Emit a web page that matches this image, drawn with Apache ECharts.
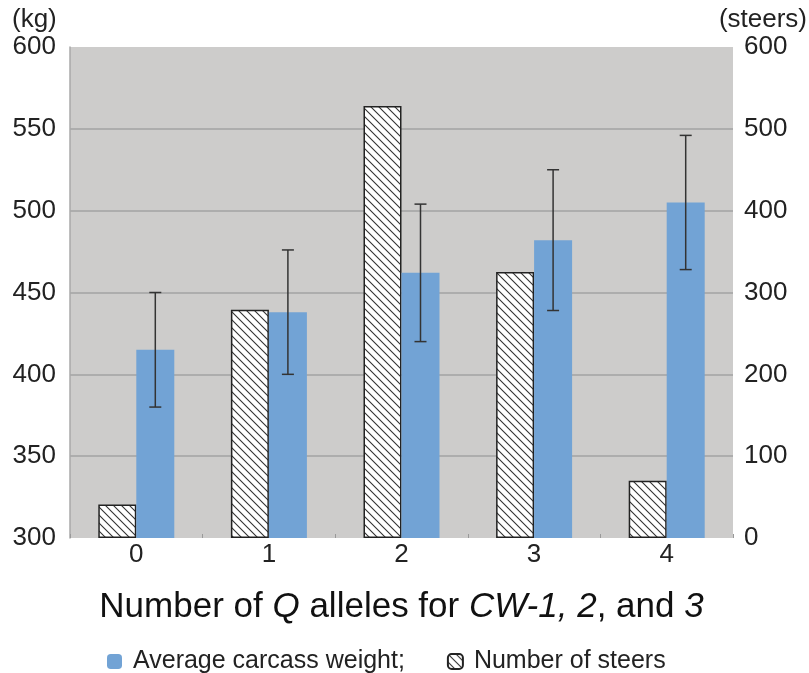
<!DOCTYPE html>
<html>
<head>
<meta charset="utf-8">
<script src="https://cdn.jsdelivr.net/npm/echarts@6/dist/echarts.min.js"></script>
<style>html,body{margin:0;padding:0;background:#fff;}#c{width:809px;height:673px;}</style>
</head>
<body>
<div id="c"></div>
<script>
var categories = ['0', '1', '2', '3', '4'];
var avgWeight = [415, 438, 462, 482, 505];
var weightErr = [35, 38, 42, 43, 41];
var steerCount = [41, 279, 528, 325, 70];
var leftTicks = [300, 600, 50];
var rightTicks = [0, 600, 100];

var FONT = '"Liberation Sans", Arial, Helvetica, sans-serif';
var BAR_W = 38;

function hatchPattern() {
  var s = 8;
  var cv = document.createElement('canvas');
  cv.width = s; cv.height = s;
  var ctx = cv.getContext('2d');
  ctx.fillStyle = '#ffffff';
  ctx.fillRect(0, 0, s, s);
  ctx.strokeStyle = '#333333';
  ctx.lineWidth = 1.1;
  ctx.beginPath();
  ctx.moveTo(-1, -1); ctx.lineTo(s + 1, s + 1);
  ctx.moveTo(-1, s - 1); ctx.lineTo(1, s + 1);
  ctx.moveTo(s - 1, -1); ctx.lineTo(s + 1, 1);
  ctx.stroke();
  return { image: cv, repeat: 'repeat' };
}

var errData = avgWeight.map(function (v, i) { return [i, v - weightErr[i], v + weightErr[i]]; });

var chart = echarts.init(document.getElementById('c'), null, { renderer: 'canvas' });
chart.setOption({
  animation: false,
  textStyle: { fontFamily: FONT },
  grid: { left: 70, right: 76, top: 47, bottom: 135, show: true, backgroundColor: '#cdcccb', borderWidth: 0 },
  legend: {
    data: ['Average carcass weight;', 'Number of steers'],
    left: 102, top: 644, itemWidth: 15, itemHeight: 15, itemGap: 42,
    textStyle: { fontSize: 25, color: '#222', fontFamily: FONT, padding: [0, 0, 0, 6] }
  },
  xAxis: {
    type: 'category', data: categories,
    axisLine: { show: false },
    axisTick: { show: true, inside: true, length: 4, lineStyle: { color: '#999' } },
    axisLabel: { fontSize: 26, color: '#222', margin: 4, fontFamily: FONT },
    name: '{n|Number of }{i|Q}{n| alleles for }{i|CW-1, 2}{n|, and }{i|3}',
    nameLocation: 'middle', nameGap: 52,
    nameTextStyle: {
      rich: {
        n: { fontSize: 35, color: '#111', fontFamily: FONT },
        i: { fontSize: 35, color: '#111', fontStyle: 'italic', fontFamily: FONT }
      }
    }
  },
  yAxis: [{
    type: 'value', min: leftTicks[0], max: leftTicks[1], interval: leftTicks[2],
    axisLine: { show: true, lineStyle: { color: '#a8a8a8', width: 1.5 } },
    axisTick: { show: false },
    splitLine: { show: true, showMaxLine: false, showMinLine: false, lineStyle: { color: '#adadad', width: 2 } },
    axisLabel: { fontSize: 26, color: '#222', margin: 14, fontFamily: FONT }
  }, {
    type: 'value', min: rightTicks[0], max: rightTicks[1], interval: rightTicks[2],
    position: 'right',
    axisLine: { show: false }, axisTick: { show: false }, splitLine: { show: false },
    axisLabel: { fontSize: 26, color: '#222', margin: 11, fontFamily: FONT }
  }],
  graphic: [
    { type: 'text', left: 12, top: 7, style: { text: '(kg)', fontSize: 26, fill: '#222', fontFamily: FONT } },
    { type: 'text', right: 2, top: 7, style: { text: '(steers)', fontSize: 26, fill: '#222', fontFamily: FONT } }
  ],
  series: [{
    name: 'Number of steers', type: 'bar', yAxisIndex: 1, data: steerCount,
    barWidth: BAR_W, barGap: '0%',
    itemStyle: { color: hatchPattern(), borderColor: '#222', borderWidth: 1.5 }
  }, {
    name: 'Average carcass weight;', type: 'bar', yAxisIndex: 0, data: avgWeight,
    barWidth: BAR_W, barGap: '0%',
    itemStyle: { color: '#72a3d5' }
  }, {
    name: 'err', type: 'custom', yAxisIndex: 0, data: errData, z: 10,
    renderItem: function (params, api) {
      var i = api.value(0);
      var lo = api.coord([i, api.value(1)]);
      var hi = api.coord([i, api.value(2)]);
      var x = lo[0] + BAR_W / 2;
      var cap = 6;
      var st = { stroke: '#333', lineWidth: 1.5 };
      return { type: 'group', children: [
        { type: 'line', shape: { x1: x, y1: lo[1], x2: x, y2: hi[1] }, style: st },
        { type: 'line', shape: { x1: x - cap, y1: lo[1], x2: x + cap, y2: lo[1] }, style: st },
        { type: 'line', shape: { x1: x - cap, y1: hi[1], x2: x + cap, y2: hi[1] }, style: st }
      ] };
    }
  }]
});
</script>
</body>
</html>
